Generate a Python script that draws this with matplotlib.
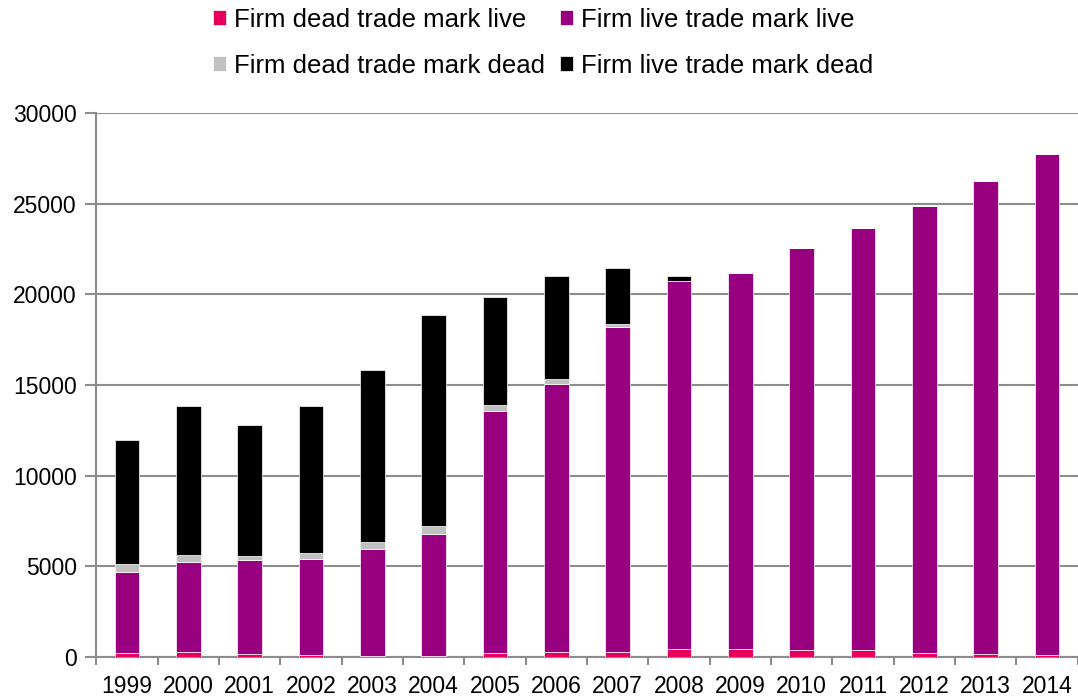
import numpy as np
import matplotlib.pyplot as plt

plt.rcParams['font.family'] = ['Liberation Sans', 'DejaVu Sans']

years = ['1999', '2000', '2001', '2002', '2003', '2004', '2005', '2006',
         '2007', '2008', '2009', '2010', '2011', '2012', '2013', '2014']

# counts per year, stacked bottom to top
dead_firm_live_mark = [250, 270, 190, 130, 80, 60, 220, 300,
                       310, 460, 430, 370, 370, 250, 190, 130]
live_firm_live_mark = [4450, 4980, 5160, 5310, 5910, 6740, 13370, 14770,
                       17870, 20260, 20750, 22190, 23290, 24620, 26060, 27610]
dead_firm_dead_mark = [410, 410, 240, 300, 370, 440, 290, 280,
                       200, 30, 0, 0, 0, 0, 0, 0]
live_firm_dead_mark = [6890, 8170, 7190, 8090, 9460, 11610, 5980, 5680,
                       3090, 290, 0, 0, 0, 0, 0, 0]

series = [
    ('Firm dead trade mark live', dead_firm_live_mark, '#E6005C'),
    ('Firm live trade mark live', live_firm_live_mark, '#990080'),
    ('Firm dead trade mark dead', dead_firm_dead_mark, '#C0C0C0'),
    ('Firm live trade mark dead', live_firm_dead_mark, '#000000'),
]

fig = plt.figure(figsize=(10.78, 6.98), dpi=100)
ax = fig.add_axes([0.0893, 0.0585, 0.9105, 0.7795])

x = np.arange(len(years))
bottom = np.zeros(len(years))
bars = {}
for label, vals, color in series:
    vals = np.array(vals, dtype=float)
    bars[label] = ax.bar(x, vals, width=0.4, bottom=bottom, color=color,
                         edgecolor='#ffffff', linewidth=0.5, label=label,
                         zorder=3)
    bottom += vals

ax.set_xlim(-0.5, len(years) - 0.5)
ax.set_ylim(0, 30000)
ax.set_yticks(np.arange(0, 30001, 5000))
ax.yaxis.grid(True, color='#8c8c8c', linewidth=1.5, zorder=0)

# category labels at bar centres, tick marks at the boundaries
ax.set_xticks(x)
ax.set_xticklabels(years, fontsize=16.5)
ax.set_xticks(np.arange(-0.5, len(years)), minor=True)
ax.tick_params(axis='x', which='major', length=0, pad=13)
ax.tick_params(axis='x', which='minor', length=6, width=1.5, color='#8c8c8c')
ax.tick_params(axis='y', length=8, width=1.5, color='#8c8c8c', labelsize=16.5, pad=6)

for side in ['top', 'right']:
    ax.spines[side].set_visible(False)
for side in ['left', 'bottom']:
    ax.spines[side].set_color('#8c8c8c')
    ax.spines[side].set_linewidth(1.5)

# legend order: column 1 = dead firms, column 2 = live firms
order = ['Firm dead trade mark live', 'Firm dead trade mark dead',
         'Firm live trade mark live', 'Firm live trade mark dead']
fig.legend([bars[k] for k in order], order, ncol=2, loc='upper center',
           bbox_to_anchor=(0.504, 1.022), frameon=False, fontsize=18.5,
           handlelength=0.5, handleheight=0.55, handletextpad=0.3,
           columnspacing=0.6, labelspacing=0.85)

fig.savefig('out.png', dpi=100)
